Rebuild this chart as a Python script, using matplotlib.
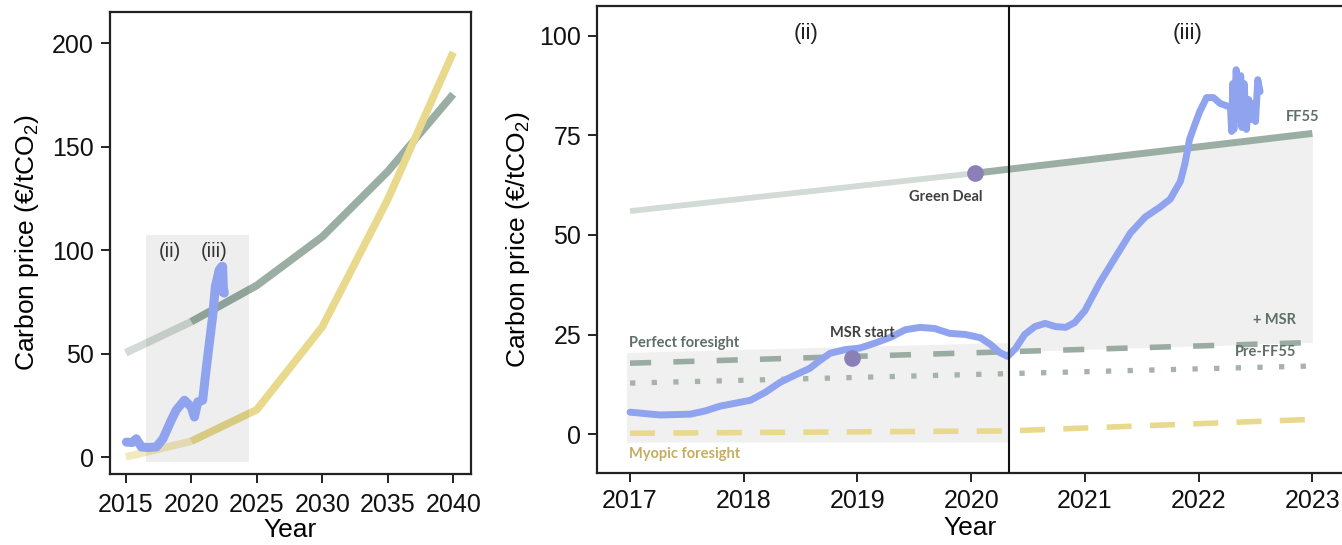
import numpy as np
import matplotlib
matplotlib.use("Agg")
import matplotlib.pyplot as plt
from matplotlib.patches import Rectangle

plt.rcParams["font.family"] = ["Liberation Sans", "DejaVu Sans"]
plt.rcParams["mathtext.fontset"] = "custom"
plt.rcParams["mathtext.rm"] = "Liberation Sans"
plt.rcParams["mathtext.it"] = "Liberation Sans:italic"
plt.rcParams["mathtext.bf"] = "Liberation Sans:bold"

# ---------------- long-run projections (EUR/tCO2) ----------------
proj_years = [2015, 2020, 2025, 2030, 2035, 2040]
ff55_proj = [50.5, 65.5, 83.0, 106.5, 138.0, 175.3]
myopic_proj = [0.2, 7.8, 23.0, 63.0, 124.5, 195.6]

# EUA market price, coarse history for the overview panel
hist_years = [2015.05, 2015.5, 2015.8, 2016.2, 2016.7, 2017.33, 2017.84, 2018.47,
              2018.85, 2019.48, 2019.99, 2020.24, 2020.5, 2020.87, 2021.13,
              2021.38, 2021.63, 2021.84, 2022.14, 2022.25, 2022.3, 2022.36,
              2022.39, 2022.45, 2022.52]
hist_price = [7.4, 7.2, 9.0, 5.0, 4.8, 5.0, 9.0, 17.9, 22.8, 27.6, 24.4, 19.5,
              26.8, 27.6, 42.1, 55.1, 67.9, 82.5, 90.6, 84.0, 92.0, 80.0,
              92.2, 82.0, 79.3]

# ---------------- detail window 2017-2023 ----------------
detail_years = [2017.00, 2017.26, 2017.53, 2017.66, 2017.79, 2018.06, 2018.19,
                2018.32, 2018.45, 2018.58, 2018.67, 2018.76, 2018.89, 2019.02,
                2019.15, 2019.29, 2019.42, 2019.55, 2019.68, 2019.81, 2019.95,
                2020.08, 2020.17, 2020.25, 2020.32, 2020.39, 2020.47, 2020.56,
                2020.65, 2020.74, 2020.83, 2020.91, 2021.00, 2021.13, 2021.27,
                2021.40, 2021.53, 2021.66, 2021.75, 2021.84, 2021.88, 2021.92,
                2021.97, 2022.01, 2022.07, 2022.13, 2022.19, 2022.24, 2022.28,
                2022.29, 2022.30, 2022.31, 2022.33, 2022.35, 2022.37, 2022.38,
                2022.40, 2022.42, 2022.44, 2022.46, 2022.48, 2022.50, 2022.52,
                2022.54]
detail_price = [5.5, 4.8, 5.0, 5.8, 7.0, 8.5, 10.5, 13.0, 14.8, 16.5, 18.5, 20.3,
                21.2, 21.6, 22.8, 24.3, 26.2, 26.8, 26.5, 25.3, 25.0, 24.2, 22.5,
                20.5, 19.5, 21.5, 25.0, 27.0, 27.8, 27.0, 26.8, 28.0, 31.0, 38.0,
                44.5, 50.5, 54.5, 57.0, 59.0, 63.5, 68.0, 74.0, 78.0, 81.0, 84.5,
                84.5, 83.0, 82.5, 82.0, 76.0, 88.0, 76.5, 91.5, 79.0, 90.0, 77.0,
                88.0, 76.5, 84.0, 79.0, 83.0, 78.5, 89.0, 86.0]

ff55_years = [2017.0, 2020.03, 2023.0]
ff55_path = [56.0, 65.5, 75.5]
msr_years = [2017.0, 2023.0]
msr_path = [17.8, 23.0]
pre_years = [2017.0, 2023.0]
pre_path = [12.8, 17.1]
myopic_years = [2017.0, 2020.33, 2023.0]
myopic_path = [0.2, 0.8, 3.7]

period_ii_years = [2016.97, 2020.33]
period_ii_top = [20.5, 23.0]
period_ii_bottom = [-2.0, -2.0]

green_deal = (2020.03, 65.5)
msr_start = (2018.95, 19.0)
regime_break = 2020.33

# ---------------- colours ----------------
BLUE = "#8fa3ee"
GREEN_DARK = "#9aaea3"
GREEN_LIGHT = "#d3dbd6"
GREEN_DASH = "#9aaba1"
GREEN_DOT = "#a6b2aa"
YELLOW = "#e9d98c"
YELLOW_LIGHT = "#f2eabf"
SHADE = "#f0f0f0"
PURPLE = "#8b7fb8"
LABEL_GREEN = "#5d6f66"
LABEL_GOLD = "#c6ad62"
LABEL_DARK = "#404040"
SPINE = "#222222"

fig = plt.figure(figsize=(13.42, 5.45), dpi=100)
ax1 = fig.add_axes([0.0820, 0.1303, 0.2690, 0.8477])
ax2 = fig.add_axes([0.4449, 0.1312, 0.5559, 0.8578])


def style_axes(ax, xpad):
    for sp in ax.spines.values():
        sp.set_color(SPINE)
        sp.set_linewidth(1.6)
    ax.tick_params(axis="both", direction="out", length=6.5, width=1.4,
                   color=SPINE, labelsize=18, pad=5, labelcolor="#111111")
    ax.tick_params(axis="x", pad=xpad)


# ================= overview panel =================
ax = ax1
style_axes(ax, 7)
py = np.array(proj_years, dtype=float)
ff = np.array(ff55_proj)
my = np.array(myopic_proj)
past = py <= 2020
future = py >= 2020
ax.plot(py[past], ff[past], color=GREEN_LIGHT, lw=5.5, solid_capstyle="butt", zorder=2)
ax.plot(py[future], ff[future], color=GREEN_DARK, lw=5.5, solid_capstyle="butt", zorder=2)
ax.plot(py[past], my[past], color=YELLOW_LIGHT, lw=5.5, solid_capstyle="butt", zorder=2)
ax.plot(py[future], my[future], color=YELLOW, lw=5.5, solid_capstyle="butt", zorder=2)
ax.add_patch(Rectangle((2016.57, -2.3), 2024.4 - 2016.57, 107.5 + 2.3,
                       facecolor="#000000", alpha=0.065, edgecolor="none", zorder=3))
ax.plot(hist_years, hist_price, color=BLUE, lw=6.5, solid_joinstyle="round",
        solid_capstyle="round", zorder=4)
ax.text(2018.34, 99.5, "(ii)", fontsize=14.5, ha="center", va="center", color="#333333", zorder=5)
ax.text(2021.76, 99.5, "(iii)", fontsize=14.5, ha="center", va="center", color="#333333", zorder=5)
ax.set_xlim(2013.80, 2041.36)
ax.set_ylim(-8.0, 215.0)
ax.set_xticks([2015, 2020, 2025, 2030, 2035, 2040])
ax.set_yticks([0, 50, 100, 150, 200])
ax.set_xlabel("Year", fontsize=19, labelpad=1)
ax.set_ylabel(r"Carbon price (€/tCO$_2$)", fontsize=19)
ax.yaxis.set_label_coords(-0.19, 0.5)

# ================= detail panel =================
ax = ax2
style_axes(ax, 5)

# shaded windows
ax.fill_between(period_ii_years, period_ii_bottom, period_ii_top, color=SHADE,
                lw=0, zorder=1)
iii_x = np.array([regime_break, 2023.0])
ax.fill_between(iii_x, np.interp(iii_x, msr_years, msr_path),
                np.interp(iii_x, ff55_years, ff55_path), color=SHADE, lw=0, zorder=1)

# FF55 trajectory: faint before the Green Deal, solid after
fy = np.array(ff55_years)
fp = np.array(ff55_path)
ax.plot(fy[fy <= green_deal[0]], fp[fy <= green_deal[0]], color=GREEN_LIGHT, lw=4.2,
        solid_capstyle="butt", zorder=2)
ax.plot(fy[fy >= green_deal[0]], fp[fy >= green_deal[0]], color=GREEN_DARK, lw=5.0,
        solid_capstyle="butt", zorder=2)

# Perfect foresight (+MSR), pre-FF55, myopic foresight
ax.plot(msr_years, msr_path, color=GREEN_DASH, lw=4.0, dashes=(3.8, 4.0), zorder=2)
ax.plot(pre_years, pre_path, color=GREEN_DOT, lw=3.8, dashes=(1.0, 3.1), zorder=2)
ax.plot(myopic_years, myopic_path, color=YELLOW, lw=4.0, dashes=(4.5, 3.3), zorder=2)

# market price
ax.plot(detail_years, detail_price, color=BLUE, lw=5.0, solid_joinstyle="round",
        solid_capstyle="round", zorder=4)

# regime break
ax.axvline(regime_break, color="#111111", lw=1.5, zorder=5)

# events
ax.plot(*msr_start, "o", ms=12, color=PURPLE, mec="none", zorder=6)
ax.plot(*green_deal, "o", ms=12, color=PURPLE, mec="none", zorder=6)

lab = dict(family=["Lato", "DejaVu Sans"], fontweight="bold", fontsize=10.5, zorder=7)
ax.text(2016.99, 22.8, "Perfect foresight", color=LABEL_GREEN, ha="left", va="center", **lab)
ax.text(2016.99, -5.0, "Myopic foresight", color=LABEL_GOLD, ha="left", va="center", **lab)
ax.text(2019.04, 25.3, "MSR start", color=LABEL_DARK, ha="center", va="center", **lab)
ax.text(2019.78, 59.6, "Green Deal", color=LABEL_DARK, ha="center", va="center", **lab)
ax.text(2022.91, 79.7, "FF55", color=LABEL_GREEN, ha="center", va="center", **lab)
ax.text(2022.67, 28.6, "+ MSR", color=LABEL_GREEN, ha="center", va="center", **lab)
ax.text(2022.59, 20.6, "Pre-FF55", color=LABEL_GREEN, ha="center", va="center", **lab)

ax.text(2018.55, 100.5, "(ii)", fontsize=16, ha="center", va="center", color="#222222")
ax.text(2021.90, 100.5, "(iii)", fontsize=16, ha="center", va="center", color="#222222")

ax.set_xlim(2016.71, 2023.27)
ax.set_ylim(-9.9, 107.5)
ax.set_xticks(range(2017, 2024))
ax.set_yticks([0, 25, 50, 75, 100])
ax.set_xlabel("Year", fontsize=19, labelpad=2)
ax.set_ylabel(r"Carbon price (€/tCO$_2$)", fontsize=19)
ax.yaxis.set_label_coords(-0.087, 0.5)

fig.savefig("out.png", dpi=100)
